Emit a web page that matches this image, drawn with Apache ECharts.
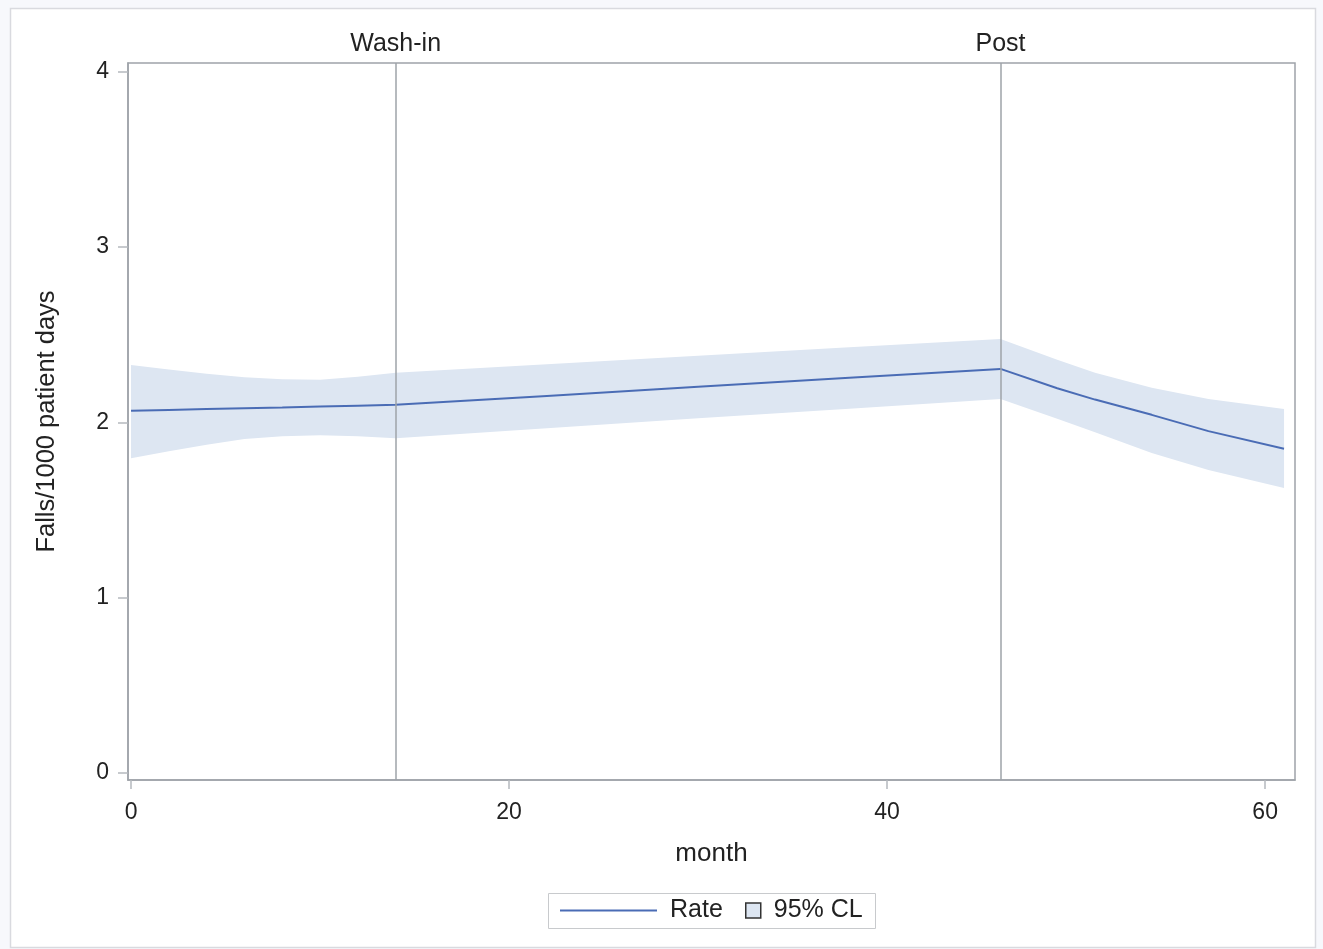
<!DOCTYPE html>
<html>
<head>
<meta charset="utf-8">
<script src="https://cdn.jsdelivr.net/npm/echarts@6/dist/echarts.min.js"></script>
<style>
html,body{margin:0;padding:0;background:#f7f8fc;}
#c{width:1323px;height:949px;}
</style>
</head>
<body>
<div id="c"></div>
<script>
// Data
var months  = [0, 2, 4, 6, 8, 10, 12, 14, 22, 30, 38, 46, 49, 51, 54, 57, 61];
var rate    = [2.066, 2.071, 2.076, 2.081, 2.085, 2.090, 2.095, 2.100, 2.151, 2.203, 2.254, 2.305, 2.195, 2.130, 2.043, 1.950, 1.849];
var lowerCL = [1.796, 1.836, 1.873, 1.905, 1.921, 1.927, 1.921, 1.910, 1.967, 2.023, 2.078, 2.134, 2.020, 1.943, 1.826, 1.728, 1.626];
var upperCL = [2.328, 2.302, 2.278, 2.258, 2.246, 2.243, 2.260, 2.283, 2.331, 2.380, 2.428, 2.476, 2.357, 2.283, 2.197, 2.134, 2.077];
var refLines = [{x: 14, label: 'Wash-in'}, {x: 46, label: 'Post'}];
var xTicks = [0, 20, 40, 60];
var yTicks = [0, 1, 2, 3, 4];

var FONT = '"Liberation Sans", Arial, sans-serif';
var lineColor = '#4a6cb5';
var bandColor = '#dde6f2';
var gray = '#9ea3a9';

var rateData = months.map(function (m, i) { return [m, rate[i]]; });
var bandData = months.map(function (m, i) { return [m, lowerCL[i], upperCL[i]]; });

function renderBand(params, api) {
  if (params.dataIndex !== 0) return null;
  var pts = [];
  var i;
  for (i = 0; i < bandData.length; i++) pts.push(api.coord([bandData[i][0], bandData[i][2]]));
  for (i = bandData.length - 1; i >= 0; i--) pts.push(api.coord([bandData[i][0], bandData[i][1]]));
  return {type: 'polygon', shape: {points: pts}, style: {fill: bandColor, stroke: 'none'}};
}

var chart = echarts.init(document.getElementById('c'), null, {renderer: 'canvas'});
chart.setOption({
  backgroundColor: '#f7f8fc',
  animation: false,
  textStyle: {fontFamily: FONT},
  graphic: [
    {type: 'rect', z: -10, shape: {x: 10.5, y: 8.5, width: 1305, height: 939}, style: {fill: '#ffffff', stroke: '#d9dadf', lineWidth: 1.5}},
    {type: 'rect', z: 5, shape: {x: 548.5, y: 893.5, width: 327, height: 35}, style: {fill: 'none', stroke: '#c8cacd', lineWidth: 1}}
  ],
  grid: {left: 128, right: 28, top: 63, bottom: 169, show: true, borderColor: gray, borderWidth: 1.5, backgroundColor: 'transparent'},
  legend: [
    {
      data: [{name: 'Rate', icon: 'rect', itemStyle: {color: lineColor}}],
      left: 560, top: 898, itemWidth: 97, itemHeight: 2, padding: 0,
      textStyle: {fontSize: 25, color: '#222', fontFamily: FONT, padding: [0, 0, 0, 8]},
      selectedMode: false
    },
    {
      data: [{name: '95% CL', icon: 'rect', itemStyle: {color: bandColor, borderColor: '#333', borderWidth: 1.5}}],
      left: 745, top: 898, itemWidth: 15, itemHeight: 15, padding: 0,
      textStyle: {fontSize: 25, color: '#222', fontFamily: FONT, padding: [0, 0, 0, 8]},
      selectedMode: false
    }
  ],
  xAxis: {
    type: 'value', min: -0.16, max: 61.58,
    name: 'month', nameLocation: 'middle', nameGap: 61,
    nameTextStyle: {fontSize: 26, color: '#222', fontFamily: FONT},
    axisLine: {show: true, onZero: false, lineStyle: {color: gray, width: 1.5}},
    axisTick: {show: true, length: 9, customValues: xTicks, lineStyle: {color: '#b5b9be', width: 1.5}},
    axisLabel: {customValues: xTicks, margin: 21, fontSize: 23, color: '#222', fontFamily: FONT},
    splitLine: {show: false}
  },
  yAxis: {
    type: 'value', min: -0.04, max: 4.05,
    name: 'Falls/1000 patient days', nameLocation: 'middle', nameGap: 68,
    nameTextStyle: {fontSize: 25.5, color: '#222', fontFamily: FONT},
    axisLine: {show: true, onZero: false, lineStyle: {color: gray, width: 1.5}},
    axisTick: {show: true, length: 10, customValues: yTicks, lineStyle: {color: '#b5b9be', width: 1.5}},
    axisLabel: {customValues: yTicks, margin: 19, fontSize: 23, color: '#222', fontFamily: FONT},
    splitLine: {show: false}
  },
  series: [
    {
      name: '95% CL', type: 'custom', data: bandData, renderItem: renderBand,
      itemStyle: {color: bandColor}, silent: true, z: 1,
      encode: {x: 0, y: [1, 2]}
    },
    {
      name: 'Rate', type: 'line', data: rateData, symbol: 'none',
      lineStyle: {color: lineColor, width: 2}, z: 3,
      markLine: {
        silent: true, symbol: ['none', 'none'],
        lineStyle: {color: gray, width: 1.5, type: 'solid'},
        label: {show: true, position: 'end', formatter: '{b}', fontSize: 25, color: '#222', fontFamily: FONT, distance: 6},
        data: refLines.map(function (r) { return {xAxis: r.x, name: r.label}; })
      }
    }
  ]
});
</script>
</body>
</html>
